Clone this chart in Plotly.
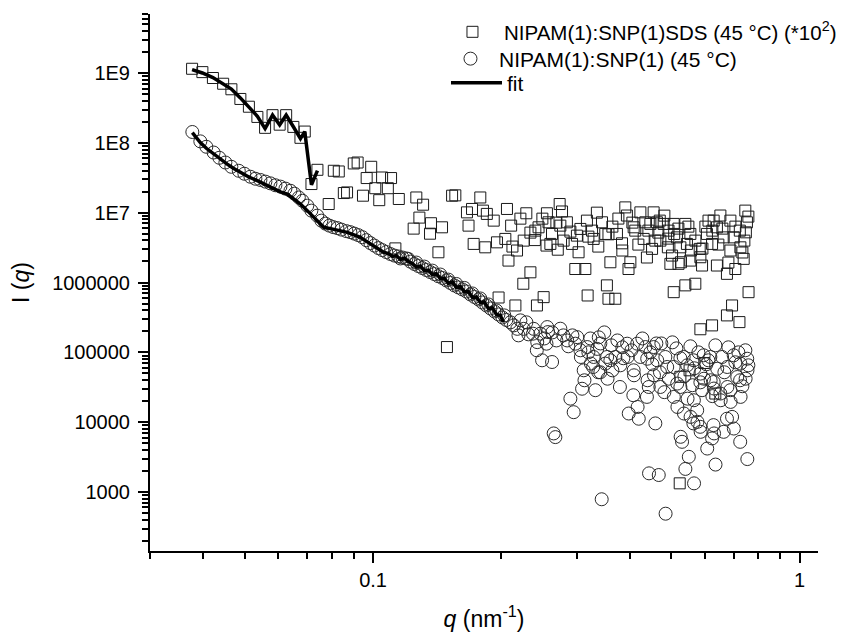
import plotly.graph_objects as go

# ---------------- data ----------------
# NIPAM(1):SNP(1)SDS (45 °C) (*10^2)  -- squares
sds_q = [0.03765, 0.03980, 0.04213, 0.04452, 0.04655, 0.04886, 0.05116, 0.05356, 0.05583,
         0.05813, 0.06040, 0.06256, 0.06504, 0.06757, 0.06916, 0.07171, 0.07406,
         0.0787, 0.0809, 0.0831, 0.0854, 0.0869, 0.0901, 0.0920, 0.0947, 0.0966, 0.0990,
         0.1012, 0.1034, 0.1050, 0.1083, 0.1102, 0.1149, 0.1128, 0.1263, 0.1310, 0.1284,
         0.1245, 0.1360, 0.1367, 0.1451, 0.1423, 0.1490, 0.1532, 0.1559, 0.1660, 0.1674,
         0.1706, 0.1721, 0.1784, 0.1810, 0.1848, 0.1832, 0.1918, 0.1952, 0.1969, 0.2042,
         0.2060, 0.2077, 0.2107, 0.2156, 0.2175, 0.2255, 0.2287, 0.2250, 0.2338, 0.2401,
         0.2422, 0.2443, 0.2395, 0.2511, 0.2556, 0.2578, 0.2550, 0.2604, 0.2627, 0.2710,
         0.2738, 0.2773, 0.2748, 0.2847, 0.2797, 0.2927, 0.3005, 0.3032, 0.3062, 0.2979,
         0.3145, 0.3184, 0.3172, 0.3261, 0.3289, 0.3347, 0.3441, 0.3502, 0.3563, 0.3600,
         0.3533, 0.3563, 0.3697, 0.3730, 0.3833, 0.3902, 0.3936, 0.4010, 0.3970, 0.4082,
         0.4118, 0.4233, 0.4309, 0.4347, 0.4385, 0.4508, 0.4467, 0.4547, 0.4628, 0.4715,
         0.4700, 0.4800, 0.4927, 0.4910, 0.4977, 0.5022, 0.5067, 0.5080, 0.5067, 0.5156,
         0.5201, 0.5253, 0.5270, 0.5253, 0.5234, 0.5395, 0.5395, 0.5442, 0.5520, 0.5544,
         0.5544, 0.5694, 0.5852, 0.5830, 0.5905, 0.5852, 0.5978, 0.6114, 0.6063, 0.6232,
         0.6232, 0.6287, 0.6343, 0.6398, 0.6398, 0.6519, 0.6636, 0.6754, 0.6754, 0.6881,
         0.6881, 0.6943, 0.7005, 0.7067, 0.7225, 0.7262, 0.7240, 0.7393, 0.7458, 0.7523,
         0.7480, 0.7589,
         0.3639, 0.3759, 0.4054, 0.4420, 0.4664, 0.4818, 0.5197, 0.5485, 0.5696, 0.6012,
         0.6243, 0.6448, 0.6590, 0.7069, 0.7420, 0.7582, 0.7341, 0.6807, 0.5916, 0.5560,
         0.4923, 0.4589, 0.4187, 0.3840, 0.3373, 0.3197, 0.2901, 0.2690, 0.2494, 0.2338,
         0.2215, 0.2122]
sds_I = [1.15e9, 1.03e9, 8.48e8, 7.02e8, 5.85e8, 4.25e8, 3.29e8, 2.35e8, 1.64e8,
         2.49e8, 1.82e8, 2.49e8, 1.69e8, 1.18e8, 1.45e8, 2.57e7, 4.11e7,
         1.33e7, 3.98e7, 3.89e7, 1.91e7, 1.95e7, 5.07e7, 5.23e7, 1.75e7, 3.13e7, 4.54e7,
         2.24e7, 1.51e7, 3.19e7, 2.24e7, 3.13e7, 1.57e7, 3.08e6, 1.65e7, 1.30e7, 8.5e6,
         5.91e6, 5.0e6, 7.06e6, 6.17e6, 2.71e6, 1.19e5, 1.75e7, 1.77e7, 1.01e7, 6.52e6,
         1.13e7, 3.57e6, 1.65e7, 1.07e7, 9.6e6, 3.19e6, 7.69e6, 3.76e6, 6.1e5, 4.21e6,
         1.13e7, 2.06e6, 6.52e6, 4.69e5, 2.87e6, 3.98e6, 9.8e6, 9.6e5, 1.40e6, 5.53e6,
         4.69e5, 6.17e6, 4.05e6, 6.17e5, 9.8e6, 7.28e6, 3.38e6, 3.57e6, 4.96e6, 2.95e6,
         1.33e7, 1.04e7, 6.52e6, 7.28e6, 3.98e6, 3.57e6, 4.69e6, 2.71e6, 5.85e6, 1.56e6,
         1.56e6, 6.52e5, 7.69e6, 5.53e6, 4.21e6, 1.0e7, 7.28e6, 4.96e6, 4.90e6, 1.95e6,
         9.1e5, 5.85e5, 5.85e5, 4.96e6, 3.64e6, 1.19e7, 9.1e6, 1.95e6, 1.56e6, 6.17e6,
         5.53e6, 1.01e7, 4.21e6, 7.28e6, 2.28e6, 3.03e6, 6.9e6, 1.01e7, 7.28e6, 3.98e6,
         7.69e6, 6.9e6, 5.53e6, 3.19e6, 1.85e6, 2.43e6, 6.9e6, 4.96e6, 7.27e5, 4.43e6,
         1.85e6, 3.19e6, 1.95e6, 4.46e4, 1.33e3, 6.9e6, 9.1e5, 3.57e6, 5.53e4, 4.96e6,
         2.06e6, 9.6e5, 2.30e6, 3.03e6, 1.75e6, 2.14e5, 7.04e4, 7.69e6, 4.96e6, 3.57e6,
         2.43e5, 7.69e6, 2.57e4, 6.17e6, 1.75e6, 9.1e6, 4.43e6, 1.33e6, 3.38e5, 7.69e6,
         2.87e6, 4.69e5, 4.43e6, 1.56e6, 2.71e5, 3.19e6, 5.53e6, 2.18e6, 1.07e7, 7.28e6,
         5.23e6, 7.27e5,
         6.31e6, 8.23e6, 7.20e6, 5.53e6, 5.18e6, 9.07e6, 5.91e6, 6.31e6, 3.98e6, 6.31e6,
         5.53e6, 3.49e6, 5.91e6, 6.31e6, 3.98e6, 8.78e6, 2.69e6, 1.93e6, 3.06e6, 2.87e6,
         4.25e6, 3.98e6, 3.49e6, 2.87e6, 3.27e6, 4.54e6, 5.35e6, 7.20e6, 8.21e6, 5.18e6,
         8.21e6, 3.27e6]

# NIPAM(1):SNP(1) (45 °C)  -- circles
nipam_q = [0.03770, 0.03936, 0.04066, 0.04229, 0.04362, 0.04506, 0.04654, 0.04844, 0.04993,
           0.05158, 0.05299, 0.05444, 0.05593, 0.05746, 0.05903, 0.06065, 0.06231, 0.06402,
           0.06542, 0.06699, 0.06831, 0.07011, 0.07168, 0.07397, 0.07566, 0.07731, 0.07900,
           0.08072, 0.08249, 0.08429, 0.08660, 0.08847, 0.09040, 0.09237, 0.09440, 0.09645,
           0.09857, 0.1007, 0.1029, 0.1051, 0.1074, 0.1098, 0.1122, 0.1146, 0.1172, 0.1197,
           0.1223, 0.1250, 0.1277, 0.1305, 0.1333, 0.1362, 0.1392, 0.1422, 0.1454, 0.1485,
           0.1518, 0.1551, 0.1585, 0.1619, 0.1655, 0.1691, 0.1728, 0.1766, 0.1803, 0.1843,
           0.1884, 0.1925, 0.1967, 0.2010, 0.2053, 0.2099,
           0.1159, 0.1210, 0.1263, 0.1319, 0.1377, 0.1438, 0.1501, 0.1568, 0.1637, 0.1709,
           0.1784, 0.1863, 0.1946, 0.2031,
           0.2137, 0.2178, 0.2215, 0.2255, 0.2313, 0.2380, 0.2370, 0.2426, 0.2420, 0.2490,
           0.2467, 0.2560, 0.2570, 0.2550, 0.2628, 0.2690, 0.2748, 0.2793, 0.2851, 0.2980,
           0.3010, 0.3062, 0.3070, 0.3117, 0.3130, 0.3090, 0.3177, 0.3231, 0.3289, 0.3280,
           0.3240, 0.3320, 0.3352, 0.3381, 0.3410, 0.3435, 0.3503, 0.3538, 0.3545, 0.3619,
           0.3639, 0.3699, 0.3799, 0.3790, 0.3861, 0.3942, 0.3950, 0.3975, 0.4032, 0.4082,
           0.4090, 0.4075, 0.4161, 0.4170, 0.4196, 0.4233, 0.4349, 0.4392, 0.4400, 0.4385,
           0.4429, 0.4435, 0.4467, 0.4547, 0.4555, 0.4589, 0.4635, 0.4674, 0.4715, 0.4705,
           0.4740, 0.4844, 0.4850, 0.4892, 0.4934, 0.5066, 0.5070, 0.5141, 0.5164, 0.5170,
           0.5253, 0.5260, 0.5301, 0.5347, 0.5355, 0.5397, 0.5451, 0.5460, 0.5497, 0.5544,
           0.5550, 0.5604, 0.5643, 0.5650, 0.5635, 0.5655, 0.5752, 0.5760, 0.5789, 0.5852,
           0.5845, 0.5860, 0.5906, 0.5957, 0.5965, 0.6045, 0.6072, 0.6176, 0.6185, 0.6233,
           0.6287, 0.6295, 0.6280, 0.6300, 0.6345, 0.6350, 0.6408, 0.6519, 0.6530, 0.6579,
           0.6636, 0.6764, 0.6770, 0.6755, 0.6806, 0.6881, 0.6890, 0.6944, 0.7004, 0.7010,
           0.7140, 0.7184, 0.7262, 0.7270, 0.7255, 0.7250, 0.7461, 0.7535, 0.7545, 0.7470,
           0.7540, 0.2901, 0.2953, 0.2651, 0.2675,
           0.2192, 0.2288, 0.2521, 0.2632, 0.2869, 0.2933, 0.3197, 0.3410, 0.3484, 0.3739,
           0.3840, 0.4279, 0.4614, 0.5031, 0.5253, 0.5665, 0.6110, 0.6661, 0.7069, 0.7582,
           0.7341, 0.6243, 0.5852, 0.5368, 0.4818, 0.4516, 0.3600, 0.3373]
nipam_I = [1.43e8, 1.05e8, 8.78e7, 7.27e7, 6.11e7, 5.23e7, 4.54e7, 3.98e7, 3.61e7,
           3.27e7, 3.06e7, 2.94e7, 2.78e7, 2.63e7, 2.47e7, 2.36e7, 2.21e7, 2.06e7,
           1.87e7, 1.65e7, 1.48e7, 1.26e7, 1.07e7, 9.07e6, 7.69e6, 6.97e6, 6.52e6,
           6.21e6, 6.01e6, 5.72e6, 5.44e6, 5.26e6, 5.01e6, 4.77e6, 4.46e6, 4.04e6,
           3.67e6, 3.38e6, 3.11e6, 2.91e6, 2.73e6, 2.56e6, 2.43e6, 2.36e6, 2.28e6, 2.21e6,
           1.99e6, 1.84e6, 1.72e6, 1.61e6, 1.51e6, 1.41e6, 1.32e6, 1.23e6, 1.16e6, 1.07e6,
           9.85e5, 9.07e5, 8.50e5, 7.96e5, 7.44e5, 6.74e5, 6.21e5, 5.72e5, 5.18e5, 4.69e5,
           4.25e5, 3.85e5, 3.49e5, 3.16e5, 2.91e5, 2.69e5,
           2.21e6, 2.17e6, 1.93e6, 1.69e6, 1.48e6, 1.30e6, 1.10e6, 9.53e5, 8.36e5, 6.97e5,
           5.91e5, 4.85e5, 3.98e5, 3.38e5,
           2.43e5, 2.17e5, 2.87e5, 2.17e5, 1.81e5, 2.17e5, 1.85e5, 1.40e5, 1.07e5, 7.69e4,
           1.85e5, 2.30e5, 1.95e5, 1.33e5, 7.27e4, 1.48e5, 2.18e5, 1.75e5, 1.48e5, 1.33e5,
           1.65e5, 1.07e5, 8.58e4, 5.53e4, 3.98e4, 3.01e4, 1.19e5, 1.58e5, 8.58e4, 6.17e4,
           6.90e4, 2.87e4, 1.12e5, 1.64e5, 5.18e4, 787, 6.90e4, 8.58e4, 4.19e4, 1.26e5,
           5.53e4, 8.58e4, 6.52e4, 3.19e4, 8.23e4, 1.33e5, 8.58e4, 1.33e4, 1.07e5, 5.53e4,
           4.69e4, 2.43e4, 1.33e5, 1.65e4, 1.12e4, 8.58e4, 1.19e5, 8.10e4, 3.98e4, 2.30e4,
           3.19e4, 1.85e3, 1.00e5, 1.19e5, 4.69e4, 9.60e3, 7.69e4, 1.75e3, 3.19e4, 5.18e4,
           1.34e5, 8.58e4, 489, 6.17e4, 4.19e4, 6.17e4, 2.30e4, 1.14e5, 3.57e4, 1.65e4,
           3.19e4, 6.17e3, 5.23e3, 8.58e4, 1.33e4, 2.14e3, 6.52e4, 2.17e4, 3.19e3, 1.22e5,
           1.19e4, 3.38e4, 7.69e4, 2.06e4, 9.60e3, 1.33e3, 1.48e4, 1.01e4, 1.00e5, 4.96e4,
           8.58e3, 7.27e3, 2.87e4, 9.07e4, 4.19e4, 6.74e4, 4.19e3, 8.58e4, 3.98e4, 5.85e3,
           3.76e4, 3.03e4, 9.07e3, 6.90e3, 1.26e5, 2.47e3, 5.82e4, 2.57e4, 2.06e4, 8.58e4,
           7.27e3, 6.17e4, 3.19e4, 1.12e4, 1.18e5, 2.87e4, 1.95e4, 1.19e4, 9.07e4, 8.10e3,
           4.43e4, 1.00e5, 6.90e4, 2.30e4, 5.23e3, 3.98e4, 1.07e5, 8.10e4, 5.53e4, 4.19e4,
           2.96e3, 2.17e4, 1.39e4, 6.90e3, 6.11e3,
           1.75e5, 2.69e5, 1.58e5, 1.93e5, 1.22e5, 1.75e5, 1.00e5, 1.34e5, 1.93e5, 1.48e5,
           1.18e5, 1.58e5, 1.34e5, 1.39e5, 8.23e4, 5.91e4, 7.69e4, 5.18e4, 7.20e4, 6.52e4,
           3.27e4, 2.36e4, 3.72e4, 4.54e4, 2.69e4, 6.74e4, 7.69e4, 5.18e4]

# fit curves
fit_sds_q = [0.03765, 0.03980, 0.04213, 0.04452, 0.04655, 0.04886, 0.05116, 0.05356, 0.05583,
             0.05813, 0.06040, 0.06256, 0.06504, 0.06757, 0.06916, 0.07171, 0.07406]
fit_sds_I = [1.12e9, 1.0e9, 8.6e8, 7.1e8, 5.9e8, 4.4e8, 3.3e8, 2.4e8, 1.6e8,
             2.5e8, 1.8e8, 2.5e8, 1.7e8, 1.15e8, 1.45e8, 2.5e7, 4.0e7]

fit_nipam_q = [0.03770, 0.03936, 0.04066, 0.04229, 0.04386, 0.04551, 0.04704, 0.04886, 0.05101,
               0.05352, 0.05593, 0.05849, 0.06065, 0.06293, 0.06506, 0.06757, 0.07011, 0.07257,
               0.07443, 0.07660, 0.07857, 0.08085, 0.08384, 0.08699, 0.08991, 0.09338, 0.09594,
               0.09857, 0.1018, 0.1059, 0.1086, 0.1110, 0.1134, 0.1159, 0.1184, 0.1210, 0.1236,
               0.1263, 0.1291, 0.1319, 0.1348, 0.1377, 0.1407, 0.1438, 0.1469, 0.1501, 0.1535,
               0.1568, 0.1602, 0.1637, 0.1673, 0.1709, 0.1747, 0.1784, 0.1823, 0.1863, 0.1905,
               0.1946, 0.1988, 0.2020]
fit_nipam_I = [1.40e8, 1.01e8, 8.36e7, 6.90e7, 5.81e7, 4.96e7, 4.32e7, 3.76e7, 3.27e7,
               2.87e7, 2.52e7, 2.17e7, 1.99e7, 1.85e7, 1.61e7, 1.33e7, 1.07e7, 8.58e6,
               7.32e6, 6.17e6, 6.01e6, 5.82e6, 5.53e6, 5.23e6, 4.85e6, 4.43e6, 3.98e6,
               3.57e6, 3.16e6, 2.71e6, 2.60e6, 2.36e6, 2.43e6, 2.14e6, 2.24e6, 1.99e6, 1.87e6,
               1.66e6, 1.72e6, 1.48e6, 1.51e6, 1.30e6, 1.34e6, 1.14e6, 1.16e6, 9.69e5, 1.02e6,
               8.50e5, 8.78e5, 7.32e5, 7.44e5, 6.11e5, 6.21e5, 5.18e5, 5.26e5, 4.25e5, 4.32e5,
               3.49e5, 3.38e5, 2.71e5]

# tick labels
y_tickvals = [1e3, 1e4, 1e5, 1e6, 1e7, 1e8, 1e9]
y_ticktext = ["1000", "10000", "100000", "1000000", "1E7", "1E8", "1E9"]
x_tickvals = [0.1, 1]
x_ticktext = ["0.1", "1"]

x_minor = [k * 0.01 for k in range(3, 10)] + [k * 0.1 for k in range(2, 10)]
y_minor = [k * 10 ** d for d in range(2, 10) for k in range(2, 10) if 10 ** 2.15 < k * 10 ** d < 10 ** 9.85]

FONT = 'Arial, "Liberation Sans", sans-serif'
LEG_FONT = dict(size=21, family=FONT, color="black")

fig = go.Figure()
fig.add_trace(go.Scatter(
    x=sds_q, y=sds_I, mode="markers", legend="legend",
    name="NIPAM(1):SNP(1)SDS (45 °C) (*10<sup>2</sup>)",
    marker=dict(symbol="square-open", size=11, color="#1a1a1a", line=dict(width=1))))
fig.add_trace(go.Scatter(
    x=nipam_q, y=nipam_I, mode="markers", legend="legend2",
    name="NIPAM(1):SNP(1) (45 °C)",
    marker=dict(symbol="circle-open", size=13, color="#2a2a2a", line=dict(width=1))))
fig.add_trace(go.Scatter(
    x=fit_sds_q, y=fit_sds_I, mode="lines", name="fit", legend="legend3",
    line=dict(color="black", width=3.5)))
fig.add_trace(go.Scatter(
    x=fit_nipam_q, y=fit_nipam_I, mode="lines", name="fit", showlegend=False,
    legend="legend3", line=dict(color="black", width=3.5)))

fig.update_layout(
    width=843, height=633,
    margin=dict(l=142, r=33, t=6, b=90, autoexpand=False),
    paper_bgcolor="white", plot_bgcolor="white",
    font=dict(family=FONT, size=20, color="black"),
    showlegend=True,
    legend=dict(x=0.4356, y=0.9665, xanchor="left", yanchor="middle",
                bgcolor="rgba(0,0,0,0)", font=dict(size=20.5, family=FONT, color="black"),
                itemwidth=53),
    legend2=dict(x=0.4371, y=0.9162, xanchor="left", yanchor="middle",
                 bgcolor="rgba(0,0,0,0)", font=LEG_FONT, itemwidth=47),
    legend3=dict(x=0.4431, y=0.8715, xanchor="left", yanchor="middle",
                 bgcolor="rgba(0,0,0,0)", font=LEG_FONT, itemwidth=51),
)
fig.update_xaxes(
    type="log", range=[-1.5229, 0.043],
    showline=True, linewidth=2, linecolor="black", mirror=False,
    showgrid=False, zeroline=False,
    ticks="outside", ticklen=10, tickwidth=2, tickcolor="black",
    tickmode="array", tickvals=x_tickvals, ticktext=x_ticktext,
    tickfont=dict(size=20, family=FONT, color="black"),
    minor=dict(ticks="outside", ticklen=6, tickwidth=1.5, tickcolor="black",
               tickmode="array", tickvals=x_minor, showgrid=False),
    title=dict(text="<i>q</i> (nm<sup>-1</sup>)", font=dict(size=23, family=FONT, color="black"),
               standoff=21),
)
fig.update_yaxes(
    type="log", range=[2.155, 9.845],
    showline=True, linewidth=2, linecolor="black", mirror=False,
    showgrid=False, zeroline=False,
    ticks="outside", ticklen=10, tickwidth=2, tickcolor="black",
    tickmode="array", tickvals=y_tickvals, ticktext=y_ticktext,
    tickfont=dict(size=20, family=FONT, color="black"),
    ticklabelstandoff=4,
    minor=dict(ticks="outside", ticklen=6, tickwidth=1.5, tickcolor="black",
               tickmode="array", tickvals=y_minor, showgrid=False),
    title=dict(text="I (<i>q</i>)", font=dict(size=23, family=FONT, color="black"),
               standoff=21),
)

fig.write_html("out.html")
